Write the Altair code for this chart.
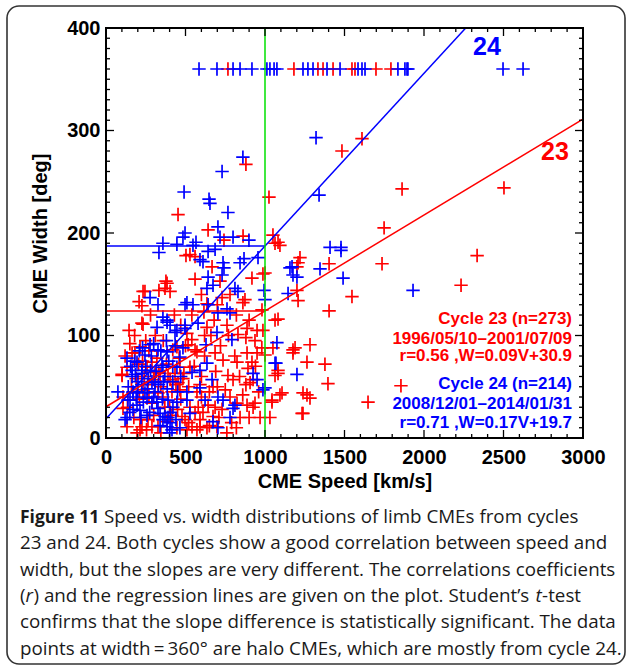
import altair as alt
import pandas as pd

# ---------------- data ----------------
# halo CMEs (width = 360 deg): speeds
c23_halo_speed = [767, 1182, 1333, 1365, 1428, 1547, 1566, 1698, 1792]
c24_halo_speed = [585, 698, 799, 843, 918, 1012, 1031, 1057, 1075, 1239, 1270, 1302,
                  1390, 1472, 1585, 1610, 1629, 1836, 1880, 1893, 1899, 2497, 2623]
halo_width = 360

# cycle 23 (speed km/s, width deg)
c23_points = [
    (880, 267), (453, 218), (1025, 235), (642, 203), (742, 193), (862, 197), (1050, 198), (1082, 191),
    (1610, 292), (1484, 280), (1862, 243), (2503, 244), (1749, 205),
    (1403, 170), (1736, 170), (2334, 178), (2233, 149), (1547, 138), (1403, 124), (1283, 91), (1264, 74),
    (1377, 72), (1396, 53), (1855, 51), (1648, 35), (1239, 44), (1283, 39), (1239, 24),
    (1094, 188), (1063, 190), (1220, 176), (1208, 171), (1201, 167), (1000, 161), (1208, 134), (1201, 144),
    (981, 125), (1082, 116), (987, 105), (1050, 88), (1189, 88), (1176, 83), (1000, 81), (1082, 66),
    (1063, 61), (1107, 44), (1044, 35), (1031, 20),
    (528, 179), (560, 177), (503, 178), (667, 167), (918, 156), (987, 160), (717, 153), (377, 153),
    (233, 143), (371, 146), (333, 144), (403, 143), (208, 133), (226, 129), (635, 131), (730, 137),
    (861, 132), (226, 112), (616, 123),
    (145, 105), (233, 111), (635, 108), (761, 110), (830, 101), (887, 107), (164, 83), (214, 89),
    (446, 89), (516, 91), (572, 84), (686, 83), (736, 76), (824, 74), (918, 74), (950, 83),
    (101, 61), (132, 69), (258, 69), (308, 64), (403, 57), (434, 63), (484, 58), (528, 69), (591, 52),
    (673, 50), (767, 61), (799, 57), (893, 68), (925, 57),
    (107, 40), (233, 47), (289, 34), (358, 40), (415, 45), (465, 47), (528, 30), (572, 45), (642, 32),
    (686, 30), (824, 34), (887, 32), (925, 30),
    (132, 11), (214, 18), (327, 11), (446, 10), (497, 18), (541, 11), (591, 18), (635, 10), (698, 11),
    (572, 8), (509, 8), (969, 20), (843, 20),
    (384, 151), (245, 143), (874, 135), (1063, 115), (1176, 86), (1094, 42), (1233, 24), (1264, 42),
    (1082, 63), (1044, 37), (937, 95), (887, 83), (906, 54), (937, 34), (780, 40), (673, 21), (591, 11),
    (610, 25), (384, 16), (226, 11), (264, 18), (101, 62),
    (182, 83), (289, 74), (340, 63), (264, 52), (327, 44), (107, 29), (214, 8), (289, 11), (453, 54),
    (465, 69), (560, 86), (478, 21), (509, 102),
    # dense core, cycle 23
    (160, 50), (190, 58), (205, 72), (240, 60), (270, 40), (300, 57), (320, 78), (345, 50), (360, 95),
    (380, 72), (400, 30), (420, 86), (440, 52), (470, 38), (490, 63), (520, 50), (540, 96), (555, 70),
    (580, 30), (600, 60), (620, 80), (650, 45), (660, 100), (690, 65), (710, 20), (720, 90), (750, 47),
    (770, 100), (790, 15), (810, 80), (840, 60), (860, 42), (880, 98), (900, 20), (940, 70), (960, 45),
    (980, 88), (150, 92), (180, 100), (250, 95), (280, 120), (310, 100), (430, 120), (470, 110),
    (540, 120), (600, 140), (680, 115), (780, 140), (820, 120), (900, 115), (950, 105), (120, 80),
    (135, 30), (175, 20), (195, 5), (255, 8), (300, 22), (345, 5), (370, 30), (415, 22), (450, 28),
    (520, 15), (560, 25), (600, 40), (650, 12), (700, 50), (730, 28), (760, 5), (820, 10), (880, 52),
    (330, 65), (270, 85), (230, 75), (210, 38), (390, 60), (460, 78), (500, 90), (620, 100), (700, 130),
    (560, 155),
]

# cycle 24 (speed km/s, width deg)
c24_points = [
    (1321, 293), (861, 274), (730, 260), (491, 240), (648, 233), (654, 229), (767, 220), (704, 206),
    (497, 200), (484, 196), (717, 196), (799, 196), (899, 193), (358, 190), (446, 189), (566, 191),
    (1340, 237), (1409, 186), (1478, 186), (1478, 183), (1346, 165), (1491, 156), (1931, 144),
    (1170, 167), (1176, 159), (1201, 157), (994, 144), (1000, 135), (1145, 141), (1075, 93), (1069, 73),
    (1201, 62), (987, 47),
    (547, 188), (333, 181), (610, 172), (591, 174), (642, 182), (686, 184), (736, 171), (742, 166),
    (843, 171), (868, 175), (956, 176), (730, 159), (642, 157), (673, 149), (635, 146), (277, 137),
    (327, 130), (497, 130), (547, 130), (811, 146), (830, 143), (761, 126), (704, 122), (780, 122),
    (642, 130), (358, 118), (384, 113), (497, 110),
    (321, 108), (403, 110), (434, 103), (497, 107), (579, 112), (698, 103), (792, 96), (277, 91),
    (327, 86), (384, 84), (465, 79), (629, 91), (635, 73),
    (164, 66), (195, 74), (226, 63), (289, 55), (358, 69), (446, 69), (591, 66), (667, 57), (950, 57),
    (75, 45), (138, 37), (170, 44), (195, 32), (258, 39), (308, 45), (327, 29), (446, 35), (509, 37),
    (591, 49), (623, 37), (704, 40), (736, 37), (799, 29),
    (120, 18), (258, 22), (358, 18), (384, 11), (390, 20), (415, 8), (673, 16),
    (509, 132), (1157, 166), (1063, 73), (925, 63), (1000, 49), (811, 32), (780, 20), (704, 10),
    (465, 10), (132, 20),
    (384, 115), (446, 105), (132, 78), (245, 81), (352, 71), (226, 66), (164, 60), (201, 55), (308, 54),
    (170, 45), (245, 44), (390, 37), (289, 35), (151, 37), (214, 27), (371, 21), (403, 15), (340, 24),
    (421, 30), (484, 88), (541, 64), (509, 45), (528, 24),
    # dense core, cycle 24
    (140, 50), (155, 70), (170, 28), (185, 62), (200, 45), (210, 85), (225, 52), (235, 35), (250, 70),
    (265, 58), (275, 25), (285, 80), (300, 40), (315, 65), (330, 52), (345, 85), (355, 38), (370, 60),
    (385, 48), (395, 75), (405, 25), (420, 55), (435, 90), (450, 45), (470, 60), (180, 75), (220, 20),
    (260, 48), (300, 92), (340, 12), (380, 95), (420, 70), (150, 25), (190, 40), (230, 88), (280, 66),
    (320, 35), (360, 55), (400, 5), (440, 18),
]

# regression lines as drawn (intercept, slope) and the speed split
fit23 = (30.5, 0.0935)
fit24 = (18.8, 0.1685)
speed_split = 1000

x_ticks = [0, 500, 1000, 1500, 2000, 2500, 3000]
y_ticks = [0, 100, 200, 300, 400]

stats23 = ["Cycle 23 (n=273)", "1996/05/10\u20132001/07/09", "r=0.56 ,W=0.09V+30.9"]
stats24 = ["Cycle 24 (n=214)", "2008/12/01\u20132014/01/31", "r=0.71 ,W=0.17V+19.7"]

caption_first = "Speed vs. width distributions of limb CMEs from cycles"
caption_lines = [
    "23 and 24. Both cycles show a good correlation between speed and",
    "width, but the slopes are very different. The correlations coefficients",
    None,  # line with italics, built below
    "confirms that the slope difference is statistically significant. The data",
    "points at width\u2009=\u2009360\u00b0 are halo CMEs, which are mostly from cycle 24.",
]
caption_l4 = ["(", "r", ") and the regression lines are given on the plot. Student\u2019s", "t", "-test"]

RED = "#ff0000"
BLUE = "#0000ff"
GREEN = "#00e000"
FONT = "Liberation Sans"
CAP_FONT = "Open Sans"

W, H = 477, 410
xs = alt.Scale(domain=[0, 3000], nice=False, zero=False)
ys = alt.Scale(domain=[0, 400], nice=False, zero=False)

x_axis = alt.Axis(values=x_ticks, grid=False, ticks=False, domain=False, labelFlush=False,
                  labelFont=FONT, labelFontWeight="bold", labelFontSize=20,
                  labelColor="black", labelPadding=9, format="d",
                  titleFont=FONT, titleFontWeight="bold", titleFontSize=20,
                  titleColor="black", titlePadding=4)
y_axis = alt.Axis(values=y_ticks, grid=False, ticks=False, domain=False, labelFlush=False,
                  labelFont=FONT, labelFontWeight="bold", labelFontSize=20,
                  labelColor="black", labelPadding=6, format="d",
                  titleFont=FONT, titleFontWeight="bold", titleFontSize=20,
                  titleColor="black", titlePadding=16)
X = alt.X("v:Q", scale=xs, title="CME Speed [km/s]", axis=x_axis)
Y = alt.Y("w:Q", scale=ys, title="CME Width [deg]", axis=y_axis)


def pts_df(points, halo):
    v = [p[0] for p in points] + list(halo)
    w = [p[1] for p in points] + [halo_width] * len(halo)
    return pd.DataFrame({"v": v, "w": w})


d23 = pts_df(c23_points, c23_halo_speed)
d24 = pts_df(c24_points, c24_halo_speed)

one = pd.DataFrame({"a": [0]})

frame = alt.Chart(one).mark_rect(
    fill="white", fillOpacity=0, stroke="#333333", strokeWidth=1.6, cornerRadius=12
).encode(x=alt.value(-99), x2=alt.value(519), y=alt.value(-22), y2=alt.value(636))

cross = "M-1,0H1M0,-1V1"


def scatter(df, color):
    return alt.Chart(df).mark_point(
        shape=cross, filled=False, size=180, strokeWidth=1.7, color=color, opacity=1
    ).encode(x=X, y=Y)


# tick marks (inward, on all four sides)
xminor = pd.DataFrame({"v": list(range(0, 3001, 100))})
xminor["major"] = xminor["v"] % 500 == 0
yminor = pd.DataFrame({"w": list(range(0, 401, 10))})
yminor["major"] = yminor["w"] % 100 == 0


def xtick_layer(df, y0, y1):
    return alt.Chart(df).mark_rule(color="black", strokeWidth=1.3).encode(
        x=X, y=alt.value(y0), y2=alt.value(y1))


def ytick_layer(df, x0, x1):
    return alt.Chart(df).mark_rule(color="black", strokeWidth=1.3).encode(
        y=Y, x=alt.value(x0), x2=alt.value(x1))


xmin_df = xminor[~xminor["major"]]
xmaj_df = xminor[xminor["major"]]
ymin_df = yminor[~yminor["major"]]
ymaj_df = yminor[yminor["major"]]

ticks = [
    xtick_layer(xmin_df, H, H - 4), xtick_layer(xmaj_df, H, H - 8),
    xtick_layer(xmin_df, 0, 4), xtick_layer(xmaj_df, 0, 8),
    ytick_layer(ymin_df, 0, 4), ytick_layer(ymaj_df, 0, 8),
    ytick_layer(ymin_df, W, W - 4), ytick_layer(ymaj_df, W, W - 8),
]

box = alt.Chart(one).mark_rect(
    fill="white", fillOpacity=0, stroke="black", strokeWidth=2
).encode(x=alt.value(0), x2=alt.value(W), y=alt.value(0), y2=alt.value(H))


def seg(v0, w0, v1, w1, color):
    df = pd.DataFrame({"v": [v0, v1], "w": [w0, w1]})
    return alt.Chart(df).mark_line(color=color, strokeWidth=1.5).encode(x=X, y=Y)


a23, b23 = fit23
a24, b24 = fit24
w23_split = a23 + b23 * speed_split
w24_split = a24 + b24 * speed_split
v24_top = (400 - a24) / b24

lines = [
    seg(0, a23, 3000, a23 + b23 * 3000, RED),
    seg(0, w23_split, speed_split, w23_split, RED),
    seg(0, a24, v24_top, 400, BLUE),
    seg(0, w24_split, speed_split, w24_split, BLUE),
    seg(speed_split, 0, speed_split, 400, GREEN),
]

labels = pd.DataFrame({"v": [2396, 2824], "w": [381, 279], "t": ["24", "23"], "c": [BLUE, RED]})
big = alt.Chart(labels).mark_text(font=FONT, fontWeight="bold", fontSize=25).encode(
    x=X, y=Y, text="t:N", color=alt.Color("c:N", scale=None))

stat_df = pd.DataFrame({
    "v": [2931] * 6,
    "w": [116, 97, 80, 53, 33, 15],
    "t": stats23 + stats24,
    "c": [RED] * 3 + [BLUE] * 3,
})
stats = alt.Chart(stat_df).mark_text(font=FONT, fontWeight="bold", fontSize=17, align="right",
                                     baseline="middle").encode(
    x=X, y=Y, text="t:N", color=alt.Color("c:N", scale=None))

# ---------------- caption ----------------
CAP_SIZE = 18.8
CAP_COLOR = "#1a1a1a"
cap_x = -86
cap_y0 = 523 - 28
cap_step = 26.3


def cap_text(text, x, y, weight="normal", style="normal", size=CAP_SIZE, align="left"):
    return alt.Chart(one).mark_text(
        text=text, font=CAP_FONT, fontWeight=weight, fontStyle=style, fontSize=size,
        align=align, baseline="alphabetic", color=CAP_COLOR
    ).encode(x=alt.value(x), y=alt.value(y))


cap_layers = [
    cap_text("Figure 11", cap_x, cap_y0, weight="bold", size=17.5),
    cap_text(caption_first, cap_x + 84, cap_y0),
]
for i, line in enumerate(caption_lines):
    yy = cap_y0 + cap_step * (i + 1)
    if line is not None:
        cap_layers.append(cap_text(line, cap_x, yy))
    else:
        xc = cap_x + 13.5
        xt = cap_x + 515.5
        cap_layers += [
            cap_text(caption_l4[0], cap_x, yy),
            cap_text(caption_l4[1], cap_x + 5.6, yy, style="italic"),
            cap_text(caption_l4[2], xc, yy),
            cap_text(caption_l4[3], xt, yy, style="italic"),
            cap_text(caption_l4[4], xt + 6.6, yy),
        ]

chart = alt.layer(
    frame, scatter(d23, RED), scatter(d24, BLUE), *lines, *ticks, box, big, stats,
    *cap_layers
).properties(
    width=W, height=H,
    padding={"left": 106, "top": 28, "right": 44, "bottom": 234},
    autosize=alt.AutoSizeParams(type="none"),
    background="white",
).configure_view(stroke=None)

chart.save("out.html", embed_options={"renderer": "svg", "actions": False})
